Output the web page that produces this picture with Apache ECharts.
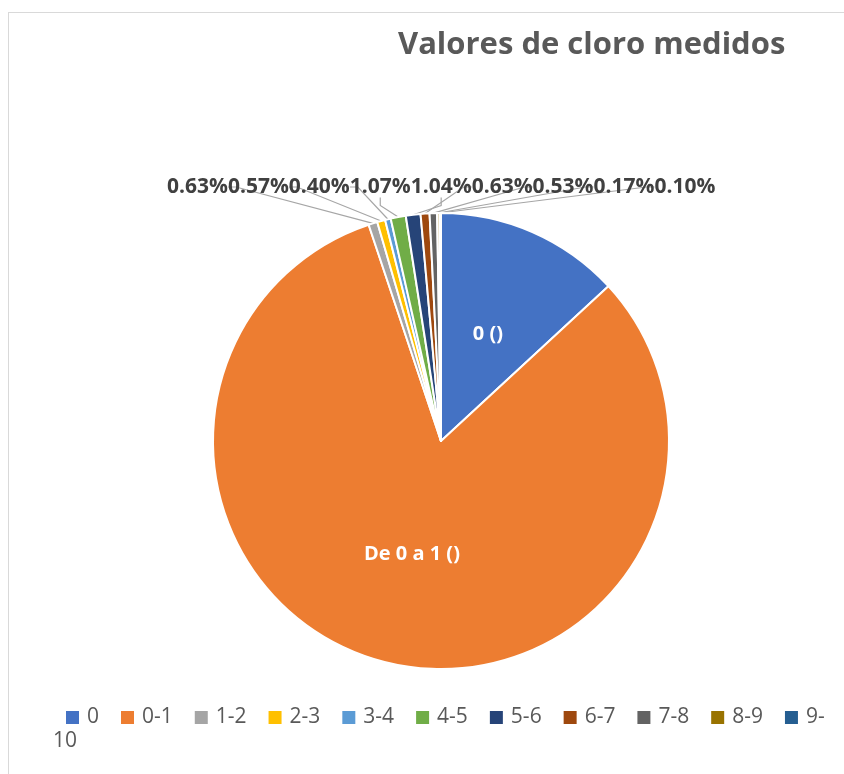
<!DOCTYPE html>
<html><head><meta charset="utf-8">
<script src="https://cdn.jsdelivr.net/npm/echarts@6/dist/echarts.min.js"></script>
<style>html,body{margin:0;padding:0;background:#fff}#c{width:844px;height:774px}</style>
</head><body><div id="c"></div>
<script>
const categories = ['0','0-1','1-2','2-3','3-4','4-5','5-6','6-7','7-8','8-9','9-10'];
const values = [13.12, 81.74, 0.63, 0.57, 0.40, 1.07, 1.04, 0.63, 0.53, 0.17, 0.10];
const insideLabels = ['0 ()', 'De 0 a 1 ()'];
const colors = ['#4472C4','#ED7D31','#A5A5A5','#FFC000','#5B9BD5','#70AD47','#264478','#9E480E','#636363','#997300','#255E91'];
const titleText = 'Valores de cloro medidos';

const FONT = '"Open Sans", "Noto Sans", sans-serif';
const labelSize = 21;
const total = values.reduce((a, b) => a + b, 0);
const pctText = values.map(v => (v / total * 100).toFixed(2) + '%');
const ctx = document.createElement('canvas').getContext('2d');
ctx.font = 'bold ' + labelSize + 'px "Open Sans"';
const labelX = [];
let cursor = 167;
for (let i = 2; i < values.length; i++) { labelX[i] = cursor; cursor += ctx.measureText(pctText[i]).width; }

const data = categories.map((name, i) => {
  const item = { name: name, value: values[i], itemStyle: { color: colors[i] } };
  if (i < insideLabels.length) {
    item.label = { position: 'inside', formatter: insideLabels[i], color: '#fff', fontSize: 20, fontWeight: 'bold' };
    item.labelLine = { show: false };
  }
  return item;
});

const chart = echarts.init(document.getElementById('c'));
chart.setOption({
  animation: false,
  backgroundColor: '#fff',
  title: {
    text: titleText, left: 393, top: 25,
    textStyle: { fontFamily: FONT, fontSize: 31, fontWeight: 'bold', color: '#595959' }
  },
  legend: {
    data: categories, left: 61, top: 702, itemWidth: 13, itemHeight: 13, itemGap: 22,
    icon: 'rect', itemStyle: { borderWidth: 0 },
    formatter: n => n === '9-10' ? '9-' : n,
    textStyle: { fontFamily: FONT, fontSize: 21, color: '#595959', padding: [0, 0, 0, 3] }
  },
  graphic: [
    { type: 'line', shape: { x1: 8.5, y1: 12, x2: 8.5, y2: 774 }, style: { stroke: '#D9D9D9', lineWidth: 1 } },
    { type: 'line', shape: { x1: 8, y1: 12.5, x2: 844, y2: 12.5 }, style: { stroke: '#D9D9D9', lineWidth: 1 } },
    { type: 'text', left: 53, top: 731, style: { text: '10', font: '21px ' + FONT, fill: '#595959' } }
  ],
  series: [{
    type: 'pie',
    center: [441, 441], radius: 228, startAngle: 90, clockwise: true,
    avoidLabelOverlap: false,
    itemStyle: { borderColor: '#fff', borderWidth: 2 },
    label: {
      show: true, position: 'outside', fontFamily: FONT, fontSize: labelSize, fontWeight: 'bold', color: '#404040',
      formatter: p => p.percent.toFixed(2) + '%'
    },
    labelLine: { show: true, length: 8, length2: 8, smooth: false, lineStyle: { color: '#A6A6A6', width: 1.2 } },
    labelLayout: p => {
      const i = p.dataIndex;
      if (i < 2) return {};
      return { x: labelX[i], y: 187, align: 'left', verticalAlign: 'middle', hideOverlap: false, moveOverlap: null };
    },
    emphasis: { disabled: true },
    data: data
  }]
});
</script></body></html>
